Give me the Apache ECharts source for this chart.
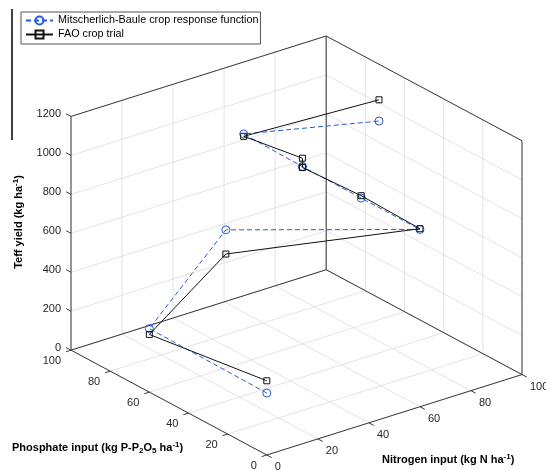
<!DOCTYPE html>
<html><head><meta charset="utf-8">
<script src="https://cdn.jsdelivr.net/npm/echarts@6/dist/echarts.min.js"></script>
<style>html,body{margin:0;padding:0;background:#fff}#c{width:546px;height:470px}</style>
</head><body><div id="c"></div>
<script>
// ---- data ----
const nitrogen  = [0, 0, 30, 60, 60, 60, 60, 60, 90];      // kg N/ha
const phosphate = [0, 60, 60, 0, 30, 60, 60, 90, 60];      // kg P-P2O5/ha
const faoYield  = [381, 296, 585, 914, 922, 905, 953, 904, 1129];
const mbYield   = [318, 326, 709, 910, 910, 910, 910, 916, 1020];
const nTicks = [0, 20, 40, 60, 80, 100];
const pTicks = [0, 20, 40, 60, 80, 100];
const yTicks = [0, 200, 400, 600, 800, 1000, 1200];
const seriesNames = ['Mitscherlich-Baule crop response function', 'FAO crop trial'];

// ---- 3D view (orthographic, MATLAB-like) ----
const N_MAX = 100, P_MAX = 100, Y_MAX = 1200;
const AZ = -37.5 * Math.PI / 180, EL = 24.2 * Math.PI / 180, Z_ASPECT = 0.795;
function proj(n, p, y) {
  const xn = n / N_MAX, yn = p / P_MAX, zn = y / Y_MAX * Z_ASPECT;
  const u = xn * Math.cos(AZ) + yn * Math.sin(AZ);
  const v = -xn * Math.sin(EL) * Math.sin(AZ) + yn * Math.sin(EL) * Math.cos(AZ) + zn * Math.cos(EL);
  return [u, v];
}
const uMin = proj(0, P_MAX, 0)[0], uMax = proj(N_MAX, 0, 0)[0];
const vMin = 0, vMax = proj(N_MAX, P_MAX, Y_MAX)[1];

// segments
const gridSegs = [];
nTicks.forEach(n => { gridSegs.push([[n,0,0],[n,P_MAX,0]]); gridSegs.push([[n,P_MAX,0],[n,P_MAX,Y_MAX]]); });
pTicks.forEach(p => { gridSegs.push([[0,p,0],[N_MAX,p,0]]); gridSegs.push([[N_MAX,p,0],[N_MAX,p,Y_MAX]]); });
yTicks.forEach(y => { gridSegs.push([[0,P_MAX,y],[N_MAX,P_MAX,y]]); gridSegs.push([[N_MAX,P_MAX,y],[N_MAX,0,y]]); });
const boxSegs = [
  [[0,P_MAX,0],[0,P_MAX,Y_MAX]], [[N_MAX,P_MAX,0],[N_MAX,P_MAX,Y_MAX]], [[N_MAX,0,0],[N_MAX,0,Y_MAX]],
  [[0,P_MAX,Y_MAX],[N_MAX,P_MAX,Y_MAX]], [[N_MAX,P_MAX,Y_MAX],[N_MAX,0,Y_MAX]],
  [[0,P_MAX,0],[N_MAX,P_MAX,0]], [[N_MAX,P_MAX,0],[N_MAX,0,0]],
  [[0,0,0],[0,P_MAX,0]], [[0,0,0],[N_MAX,0,0]]
];
const tickSegs = [];
yTicks.forEach(y => tickSegs.push([[0,P_MAX,y],[0,P_MAX*1.025,y]]));
pTicks.forEach(p => tickSegs.push([[0,p,0],[-N_MAX*0.02,p,0]]));
nTicks.forEach(n => tickSegs.push([[n,0,0],[n,-P_MAX*0.025,0]]));

const labels = [];
yTicks.forEach(y => labels.push({pt: proj(0,P_MAX,y), text: String(y), align:'right', dx:-10, dy:-2}));
pTicks.forEach(p => labels.push({pt: proj(0,p,0), text: String(p), align:'right', dx:-10, dy:11}));
nTicks.forEach(n => labels.push({pt: proj(n,0,0), text: String(n), align:'left', dx:8, dy:12}));

const segData = segs => segs.map(s => proj(...s[0]).concat(proj(...s[1])));
function segSeries(segs, color, width, z) {
  return {
    type: 'custom', coordinateSystem: 'cartesian2d', silent: true, clip: false, z: z,
    data: segData(segs),
    renderItem: (params, api) => {
      const a = api.coord([api.value(0), api.value(1)]);
      const b = api.coord([api.value(2), api.value(3)]);
      return { type: 'line', shape: {x1:a[0], y1:a[1], x2:b[0], y2:b[1]},
               style: { stroke: color, lineWidth: width } };
    }
  };
}
const FONT = "'Liberation Sans', Arial, sans-serif";
const BLUE = '#2a5bd7';

const chart = echarts.init(document.getElementById('c'), null, {renderer: 'canvas'});
chart.setOption({
  animation: false,
  backgroundColor: '#fff',
  grid: { left: 71, right: 24, top: 36, bottom: 15 },
  xAxis: { type: 'value', min: uMin, max: uMax, show: false },
  yAxis: { type: 'value', min: vMin, max: vMax, show: false },
  legend: {
    orient: 'vertical', left: 21, top: 12,
    borderColor: '#262626', borderWidth: 0.8, padding: [3, 2, 4, 4],
    itemWidth: 27, itemHeight: 10, itemGap: 3,
    textStyle: { fontFamily: FONT, fontSize: 10.8, color: '#000' },
    data: seriesNames
  },
  series: [
    segSeries(gridSegs, '#dcdcdc', 0.8, 1),
    segSeries(boxSegs, '#262626', 0.9, 2),
    segSeries(tickSegs, '#262626', 0.9, 2),
    {
      type: 'custom', coordinateSystem: 'cartesian2d', silent: true, clip: false, z: 3,
      data: labels.map(l => l.pt),
      renderItem: (params, api) => {
        const l = labels[params.dataIndex];
        const a = api.coord([api.value(0), api.value(1)]);
        return { type: 'text', x: a[0] + l.dx, y: a[1] + l.dy,
                 style: { text: l.text, align: l.align, verticalAlign: 'middle',
                          font: '11px ' + FONT, fill: '#262626' } };
      }
    },
    {
      name: seriesNames[0], type: 'line', clip: false, z: 5,
      data: nitrogen.map((n, i) => proj(n, phosphate[i], mbYield[i])),
      symbol: 'circle', symbolSize: 8,
      lineStyle: { color: BLUE, width: 1, type: [5, 3] },
      itemStyle: { color: 'rgba(255,255,255,0)', borderColor: BLUE, borderWidth: 1 }
    },
    {
      name: seriesNames[1], type: 'line', clip: false, z: 6,
      data: nitrogen.map((n, i) => proj(n, phosphate[i], faoYield[i])),
      symbol: 'rect', symbolSize: 6,
      lineStyle: { color: '#111', width: 1 },
      itemStyle: { color: 'rgba(255,255,255,0)', borderColor: '#111', borderWidth: 1 }
    }
  ],
  graphic: [
    { type: 'line', shape: {x1: 12, y1: 9, x2: 12, y2: 140}, style: {stroke: '#000', lineWidth: 1.5} },
    { type: 'text', x: 19, y: 222, rotation: Math.PI / 2,
      style: { text: '{b|Teff yield (kg ha}{s|-1}{b|)}', align: 'center', verticalAlign: 'middle',
        rich: { b: {fontFamily: FONT, fontSize: 11, fontWeight: 'bold', lineHeight: 14, fill: '#000'},
                s: {fontFamily: FONT, fontSize: 8, fontWeight: 'bold', lineHeight: 8, verticalAlign: 'top', fill: '#000'} } } },
    { type: 'text', x: 12, y: 448,
      style: { text: '{b|Phosphate input (kg P-P}{d|2}{b|O}{d|5}{b| ha}{s|-1}{b|)}', align: 'left', verticalAlign: 'middle',
        rich: { b: {fontFamily: FONT, fontSize: 11, fontWeight: 'bold', lineHeight: 14, fill: '#000'},
                d: {fontFamily: FONT, fontSize: 8, fontWeight: 'bold', lineHeight: 8, verticalAlign: 'bottom', fill: '#000'},
                s: {fontFamily: FONT, fontSize: 8, fontWeight: 'bold', lineHeight: 8, verticalAlign: 'top', fill: '#000'} } } },
    { type: 'text', x: 382, y: 460,
      style: { text: '{b|Nitrogen input (kg N ha}{s|-1}{b|)}', align: 'left', verticalAlign: 'middle',
        rich: { b: {fontFamily: FONT, fontSize: 11, fontWeight: 'bold', lineHeight: 14, fill: '#000'},
                s: {fontFamily: FONT, fontSize: 8, fontWeight: 'bold', lineHeight: 8, verticalAlign: 'top', fill: '#000'} } } }
  ]
});
</script>
</body></html>
